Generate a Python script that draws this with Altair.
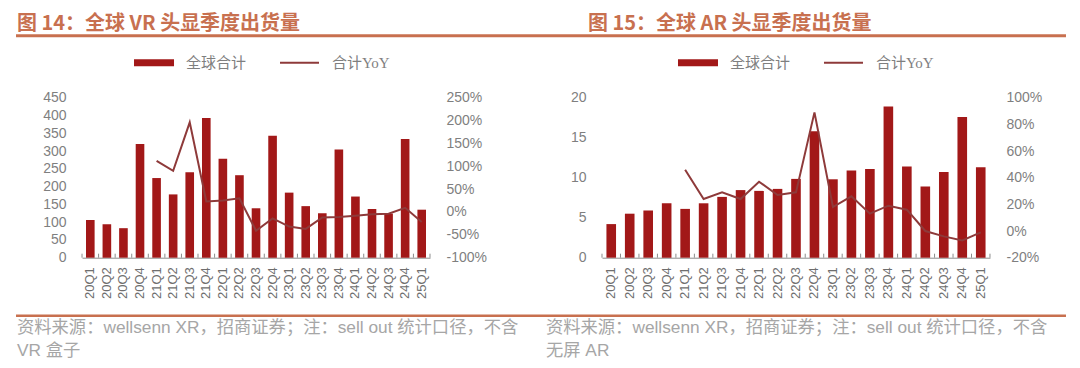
import altair as alt
import pandas as pd

# ---------------- data ----------------
quarters = ["20Q1", "20Q2", "20Q3", "20Q4", "21Q1", "21Q2", "21Q3", "21Q4",
            "22Q1", "22Q2", "22Q3", "22Q4", "23Q1", "23Q2", "23Q3", "23Q4",
            "24Q1", "24Q2", "24Q3", "24Q4", "25Q1"]

vr_total = [106, 94, 83, 320, 224, 178, 240, 393, 278, 232, 139, 343,
            183, 145, 125, 304, 172, 137, 124, 334, 135]
vr_yoy = [None, None, None, None, 112, 90, 196, 23, 25, 30, -41, -14,
          -32, -37, -12, -11, -8, -5, -4, 9, -22]

ar_total = [4.2, 5.5, 5.9, 6.8, 6.1, 6.8, 7.6, 8.45, 8.35, 8.6, 9.85, 15.8,
            9.8, 10.9, 11.1, 18.9, 11.4, 8.9, 10.7, 17.6, 11.3]
ar_yoy = [None, None, None, None, 46, 24, 29, 24, 37, 27, 29, 89,
          18, 26, 13, 19, 16, 0, -4, -7, -1]

vr_left_ticks = [0, 50, 100, 150, 200, 250, 300, 350, 400, 450]
vr_right_ticks = [-100, -50, 0, 50, 100, 150, 200, 250]
ar_left_ticks = [0, 5, 10, 15, 20]
ar_right_ticks = [-20, 0, 20, 40, 60, 80, 100]

legend_bar_label = "全球合计"
legend_line_label_cn = "合计"
legend_line_label_en = "YoY"

title_vr = "图 14：全球 VR 头显季度出货量"
title_ar = "图 15：全球 AR 头显季度出货量"
source_vr = ["资料来源：wellsenn XR，招商证券；注：sell out 统计口径，不含", "VR 盒子"]
source_ar = ["资料来源：wellsenn XR，招商证券；注：sell out 统计口径，不含", "无屏 AR"]

# ---------------- style ----------------
BAR = "#A21818"
LINE = "#8E3A3A"
ACCENT = "#C8704F"
AXIS_GRAY = "#8C8C8C"
LABEL_GRAY = "#7F7F7F"
SRC_GRAY = "#A6A6A6"
CJK = "Noto Sans CJK SC"
LAT = "Liberation Sans, Noto Sans CJK SC"
H = 160


def txt(s, x, y, size, color, font=CJK, weight="normal", align="left"):
    return alt.Chart(pd.DataFrame({"t": [s]})).mark_text(
        align=align, baseline="middle", fontSize=size, color=color,
        font=font, fontWeight=weight
    ).encode(x=alt.value(x), y=alt.value(y), text="t:N")


def xaxis():
    return alt.Axis(title=None, labelAngle=-90, labelAlign="right",
                    labelBaseline="middle", labelFontSize=13,
                    labelColor="#6E6E6E", labelPadding=9, ticks=False,
                    domainColor=AXIS_GRAY, domainWidth=1, grid=False,
                    labelFont="Liberation Sans")


def panel(total, yoy, width, lt, rt, title, src, tx, lx, sx, full_rules):
    df = pd.DataFrame({"q": quarters, "v": total, "yoy": yoy})
    xs = alt.Scale(paddingInner=0, paddingOuter=0)
    bars = alt.Chart(df).mark_bar(color=BAR, width=alt.RelativeBandSize(0.52)).encode(
        x=alt.X("q:N", sort=quarters, scale=xs, axis=xaxis()),
        y=alt.Y("v:Q", scale=alt.Scale(domain=[lt[0], lt[-1]], nice=False),
                axis=alt.Axis(values=lt, title=None, orient="left", domain=False,
                              ticks=False, grid=False, labelPadding=16,
                              labelFontSize=14, labelColor=LABEL_GRAY,
                              labelFont="Liberation Sans")),
    )
    line = alt.Chart(df).mark_line(color=LINE, strokeWidth=2).encode(
        x=alt.X("q:N", sort=quarters, scale=xs, axis=xaxis()),
        y=alt.Y("yoy:Q", scale=alt.Scale(domain=[rt[0], rt[-1]], nice=False),
                axis=alt.Axis(values=rt, title=None, orient="right", domain=False,
                              ticks=False, grid=False, labelPadding=16,
                              labelFontSize=14, labelColor=LABEL_GRAY,
                              labelFont="Liberation Sans",
                              labelExpr="datum.value + '%'")),
    )
    ticks = alt.Chart(df).mark_rule(color=AXIS_GRAY, strokeWidth=1).encode(
        x=alt.X("q:N", sort=quarters, scale=xs, bandPosition=0, axis=xaxis()),
        y=alt.value(H - 4), y2=alt.value(H),
    )
    endtick = alt.Chart(df.tail(1)).mark_rule(color=AXIS_GRAY, strokeWidth=1).encode(
        x=alt.X("q:N", sort=quarters, scale=xs, bandPosition=1, axis=xaxis()),
        y=alt.value(H - 4), y2=alt.value(H),
    )
    base = alt.layer(bars, line).resolve_scale(y="independent")

    ann = [
        txt(title, tx, -73.3, 20, ACCENT, weight="bold"),
        alt.Chart(pd.DataFrame({"a": [0]})).mark_rect(color=BAR).encode(
            x=alt.value(lx), x2=alt.value(lx + 40), y=alt.value(-38.5), y2=alt.value(-31.5)),
        txt(legend_bar_label, lx + 52, -35, 15, LABEL_GRAY),
        alt.Chart(pd.DataFrame({"a": [0]})).mark_rule(color=LINE, strokeWidth=2).encode(
            x=alt.value(lx + 146), x2=alt.value(lx + 185), y=alt.value(-35)),
        txt(legend_line_label_cn, lx + 198, -35, 15, LABEL_GRAY),
        txt(legend_line_label_en, lx + 228, -35, 15, LABEL_GRAY, font="Liberation Serif"),
        txt(src[0], sx, 230, 17.3, SRC_GRAY, font=LAT),
        txt(src[1], sx, 253, 17.3, SRC_GRAY, font=LAT),
    ]
    if full_rules:
        ann += [
            alt.Chart(pd.DataFrame({"a": [0]})).mark_rule(color=ACCENT, strokeWidth=3).encode(
                x=alt.value(-66), x2=alt.value(984), y=alt.value(-62)),
            alt.Chart(pd.DataFrame({"a": [0]})).mark_rule(color=ACCENT, strokeWidth=2.5).encode(
                x=alt.value(-66), x2=alt.value(984), y=alt.value(218)),
        ]
    return alt.layer(base, ticks, endtick, *ann).properties(width=width, height=H)


left = panel(vr_total, vr_yoy, 348, vr_left_ticks, vr_right_ticks, title_vr,
             source_vr, tx=-65, lx=52, sx=-65, full_rules=True)
right = panel(ar_total, ar_yoy, 388, ar_left_ticks, ar_right_ticks, title_ar,
              source_ar, tx=-14, lx=76, sx=-56, full_rules=False)

chart = alt.hconcat(left, right, spacing=172, bounds="flush").properties(
    padding={"left": 6, "top": 5.7, "right": 0, "bottom": 0},
    background="white",
).configure_view(stroke=None)

chart.save("out.html", embed_options={"renderer": "svg", "actions": False})
